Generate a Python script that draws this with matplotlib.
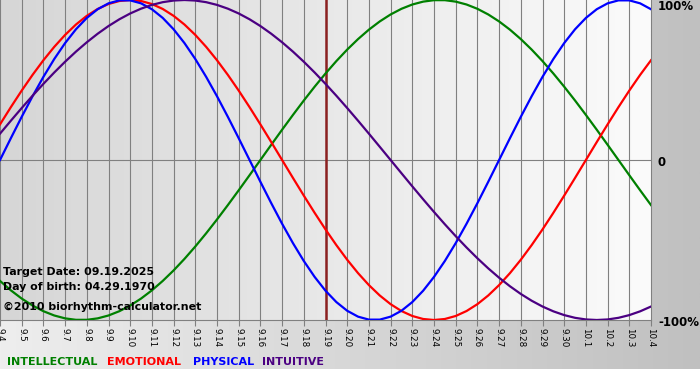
import numpy as np
import matplotlib
matplotlib.use('Agg')
import matplotlib.pyplot as plt
from matplotlib.colors import LinearSegmentedColormap

# day labels along the bottom (9.4 .. 10.4)
days = ['9.4', '9.5', '9.6', '9.7', '9.8', '9.9', '9.10', '9.11', '9.12', '9.13',
        '9.14', '9.15', '9.16', '9.17', '9.18', '9.19', '9.20', '9.21', '9.22', '9.23',
        '9.24', '9.25', '9.26', '9.27', '9.28', '9.29', '9.30', '10.1', '10.2', '10.3', '10.4']

# readings twice per day (every half day from 9.4 to 10.4), -1 .. 1
intellectual = [-0.7557, -0.8146, -0.8660, -0.9096, -0.9450, -0.9718, -0.9898, -0.9989, -0.9989, -0.9898,
                -0.9718, -0.9450, -0.9096, -0.8660, -0.8146, -0.7557, -0.6901, -0.6182, -0.5406, -0.4582,
                -0.3717, -0.2817, -0.1893, -0.0951, 0.0, 0.0951, 0.1893, 0.2817, 0.3717, 0.4582,
                0.5406, 0.6182, 0.6901, 0.7557, 0.8146, 0.8660, 0.9096, 0.9450, 0.9718, 0.9898,
                0.9989, 0.9989, 0.9898, 0.9718, 0.9450, 0.9096, 0.8660, 0.8146, 0.7557, 0.6901,
                0.6182, 0.5406, 0.4582, 0.3717, 0.2817, 0.1893, 0.0951, 0.0, -0.0951, -0.1893,
                -0.2817]
emotional = [0.2225, 0.3303, 0.4339, 0.5320, 0.6235, 0.7071, 0.7818, 0.8467, 0.9010, 0.9439,
             0.9749, 0.9937, 1.0, 0.9937, 0.9749, 0.9439, 0.9010, 0.8467, 0.7818, 0.7071,
             0.6235, 0.5320, 0.4339, 0.3303, 0.2225, 0.1120, 0.0, -0.1120, -0.2225, -0.3303,
             -0.4339, -0.5320, -0.6235, -0.7071, -0.7818, -0.8467, -0.9010, -0.9439, -0.9749, -0.9937,
             -1.0, -0.9937, -0.9749, -0.9439, -0.9010, -0.8467, -0.7818, -0.7071, -0.6235, -0.5320,
             -0.4339, -0.3303, -0.2225, -0.1120, 0.0, 0.1120, 0.2225, 0.3303, 0.4339, 0.5320,
             0.6235]
physical = [0.0, 0.1362, 0.2698, 0.3984, 0.5196, 0.6311, 0.7308, 0.8170, 0.8879, 0.9423,
            0.9791, 0.9977, 0.9977, 0.9791, 0.9423, 0.8879, 0.8170, 0.7308, 0.6311, 0.5196,
            0.3984, 0.2698, 0.1362, 0.0, -0.1362, -0.2698, -0.3984, -0.5196, -0.6311, -0.7308,
            -0.8170, -0.8879, -0.9423, -0.9791, -0.9977, -0.9977, -0.9791, -0.9423, -0.8879, -0.8170,
            -0.7308, -0.6311, -0.5196, -0.3984, -0.2698, -0.1362, 0.0, 0.1362, 0.2698, 0.3984,
            0.5196, 0.6311, 0.7308, 0.8170, 0.8879, 0.9423, 0.9791, 0.9977, 0.9977, 0.9791,
            0.9423]
intuitive = [0.1646, 0.2455, 0.3247, 0.4017, 0.4759, 0.5469, 0.6142, 0.6773, 0.7357, 0.7891,
             0.8372, 0.8795, 0.9158, 0.9458, 0.9694, 0.9864, 0.9966, 1.0, 0.9966, 0.9864,
             0.9694, 0.9458, 0.9158, 0.8795, 0.8372, 0.7891, 0.7357, 0.6773, 0.6142, 0.5469,
             0.4759, 0.4017, 0.3247, 0.2455, 0.1646, 0.0826, 0.0, -0.0826, -0.1646, -0.2455,
             -0.3247, -0.4017, -0.4759, -0.5469, -0.6142, -0.6773, -0.7357, -0.7891, -0.8372, -0.8795,
             -0.9158, -0.9458, -0.9694, -0.9864, -0.9966, -1.0, -0.9966, -0.9864, -0.9694, -0.9458,
             -0.9158]

target_day = '9.19'
info_lines = ['Target Date: 09.19.2025', 'Day of birth: 04.29.1970', '\u00a92010 biorhythm-calculator.net']

series = [('INTELLECTUAL', intellectual, '#008000'),
          ('EMOTIONAL', emotional, '#ff0000'),
          ('PHYSICAL', physical, '#0000ff'),
          ('INTUITIVE', intuitive, '#4b0082')]

W, H = 700, 380
fig = plt.figure(figsize=(W / 100, H / 100), dpi=100)
fig.patch.set_facecolor('white')

# outer gray gradient panel
bg = fig.add_axes([0, 11 / H, 1, 1 - 11 / H], zorder=0)
bg.imshow(np.linspace(0, 1, 256).reshape(1, -1), aspect='auto', extent=[0, 1, 0, 1],
          cmap=LinearSegmentedColormap.from_list('outer', ['#eeeeee', '#c0c0c0']))
bg.axis('off')

ax = fig.add_axes([0, 60 / H, 651 / W, 320 / H], zorder=1)
x = np.arange(len(days))
ax.imshow(np.linspace(0, 1, 256).reshape(1, -1), aspect='auto', extent=[0, len(days) - 1, -1, 1],
          cmap=LinearSegmentedColormap.from_list('inner', ['#d6d6d6', '#fbfbfb']), zorder=0)

for xi in x:
    ax.axvline(xi, color='#808080', lw=0.8, zorder=1, clip_on=False)
ax.axhline(0, color='#808080', lw=0.8, zorder=1)
ax.axhline(-1, color='#808080', lw=0.8, zorder=1, clip_on=False)
ax.axvline(days.index(target_day), color='#8b2020', lw=1.8, zorder=2)

for name, vals, col in series:
    xs = np.arange(len(vals)) / 2  # two readings per day
    ax.plot(xs, vals, color=col, lw=1.6, zorder=3, solid_joinstyle='round')

ax.set_xlim(0, len(days) - 1)
ax.set_ylim(-1, 1)
for s in ax.spines.values():
    s.set_visible(False)
ax.set_yticks([])
ax.set_xticks(x)
ax.set_xticklabels(days, rotation=-90, fontsize=6.3)
ax.tick_params(axis='x', length=4, color='#808080', pad=2)

ytr = ax.get_yaxis_transform()
ax.text(1 + 7 / 651, 1, '100%', transform=ytr, ha='left', va='top', fontsize=8.5, fontweight='bold')
ax.text(1 + 7 / 651, -0.015, '0', transform=ytr, ha='left', va='center', fontsize=8.5, fontweight='bold')
ax.text(1 + 7 / 651, -1.015, '-100%', transform=ytr, ha='left', va='center', fontsize=8.5, fontweight='bold')

for txt, yp in zip(info_lines, [272, 287, 307]):
    fig.text(3 / W, 1 - yp / H, txt, ha='left', va='center', fontsize=7.9, fontweight='bold', zorder=5)

for (name, vals, col), xp in zip(series, [7, 107, 193, 262]):
    fig.text(xp / W, 1 - 362 / H, name, ha='left', va='center', fontsize=8, fontweight='bold', color=col)

fig.savefig('out.png', dpi=100)
